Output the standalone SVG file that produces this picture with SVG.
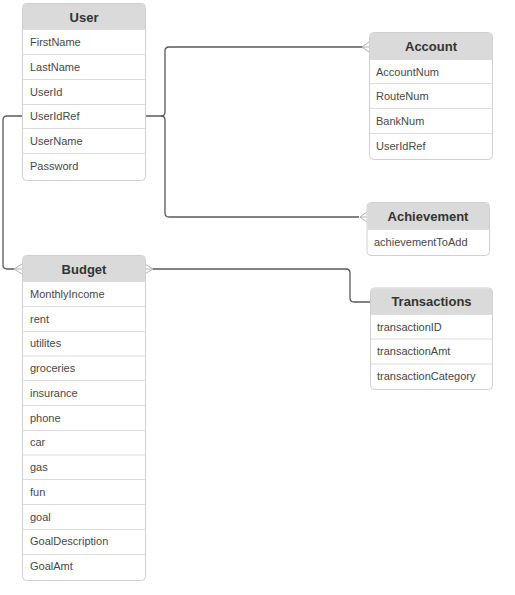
<svg xmlns="http://www.w3.org/2000/svg" width="515" height="595" viewBox="0 0 515 595">
<style>
.box{fill:#ffffff;stroke:#d0d0d0;stroke-width:1}
.hdr{fill:#dadada}
.sep{stroke:#dcdcdc;stroke-width:1}
.title{font-family:"Liberation Sans",Arial,sans-serif;font-size:13px;font-weight:bold;fill:#333;text-anchor:middle}
.row{font-family:"Liberation Sans",Arial,sans-serif;font-size:11px;fill:#484848}
.conn{fill:none;stroke:#5a5a5a;stroke-width:1.3}
.crow{fill:none;stroke:#b0b0b0;stroke-width:1}
</style>
<rect width="515" height="595" fill="#ffffff"/>
<g id="connectors">
<path class="conn" d="M145,116 H161 Q165,116 165,112 V51 Q165,47 169,47 H362"/>
<path class="conn" d="M161,116 Q165,116 165,120 V213 Q165,217 169,217 H359"/>
<path class="conn" d="M22,116 H7 Q3,116 3,120 V265 Q3,269 7,269 H14"/>
<path class="conn" d="M153,269 H346 Q350,269 350,273 V298 Q350,302 354,302 H371"/>
<path class="crow" d="M369,42 L362,47 L369,52 M362,47 H369"/>
<path class="crow" d="M367,212 L360,217 L367,222 M360,217 H367"/>
<path class="crow" d="M22,264 L14,269 L22,274 M14,269 H22"/>
<path class="crow" d="M145,264 L153,269 L145,274 M145,269 H153"/>
</g>
<g id="user">
<rect class="box" x="22.5" y="3.5" width="123" height="177" rx="4"/>
<path class="hdr" d="M26.5,4 H141.5 Q145,4 145,7.5 V29 H23 V7.5 Q23,4 26.5,4 Z"/>
<line class="sep" x1="22.5" y1="29.5" x2="145.5" y2="29.5"/>
<line class="sep" x1="22.5" y1="54.5" x2="145.5" y2="54.5"/>
<line class="sep" x1="22.5" y1="79.5" x2="145.5" y2="79.5"/>
<line class="sep" x1="22.5" y1="104.5" x2="145.5" y2="104.5"/>
<line class="sep" x1="22.5" y1="128.5" x2="145.5" y2="128.5"/>
<line class="sep" x1="22.5" y1="153.5" x2="145.5" y2="153.5"/>
<text class="title" x="84" y="21.5">User</text>
<text class="row" x="30" y="46">FirstName</text>
<text class="row" x="30" y="71">LastName</text>
<text class="row" x="30" y="96">UserId</text>
<text class="row" x="30" y="120">UserIdRef</text>
<text class="row" x="30" y="145">UserName</text>
<text class="row" x="30" y="170">Password</text>
</g>
<g id="account">
<rect class="box" x="369.5" y="32.5" width="123" height="127" rx="4"/>
<path class="hdr" d="M373.5,33 H488.5 Q492,33 492,36.5 V59 H370 V36.5 Q370,33 373.5,33 Z"/>
<line class="sep" x1="369.5" y1="59.5" x2="492.5" y2="59.5"/>
<line class="sep" x1="369.5" y1="83.5" x2="492.5" y2="83.5"/>
<line class="sep" x1="369.5" y1="108.5" x2="492.5" y2="108.5"/>
<line class="sep" x1="369.5" y1="133.5" x2="492.5" y2="133.5"/>
<text class="title" x="431" y="50.5">Account</text>
<text class="row" x="376" y="75.5">AccountNum</text>
<text class="row" x="376" y="100">RouteNum</text>
<text class="row" x="376" y="124.5">BankNum</text>
<text class="row" x="376" y="149.5">UserIdRef</text>
</g>
<g id="achievement">
<rect class="box" x="367" y="202.5" width="122.5" height="53" rx="4"/>
<path class="hdr" d="M371,203 H485.5 Q489,203 489,206.5 V229.5 H367.5 V206.5 Q367.5,203 371,203 Z"/>
<line class="sep" x1="367" y1="229.5" x2="489.5" y2="229.5"/>
<text class="title" x="428" y="220.5">Achievement</text>
<text class="row" x="374" y="246">achievementToAdd</text>
</g>
<g id="budget">
<rect class="box" x="22.5" y="255.5" width="123" height="325" rx="4"/>
<path class="hdr" d="M26.5,256 H141.5 Q145,256 145,259.5 V281 H23 V259.5 Q23,256 26.5,256 Z"/>
<line class="sep" x1="22.5" y1="281.5" x2="145.5" y2="281.5"/>
<line class="sep" x1="22.5" y1="306.5" x2="145.5" y2="306.5"/>
<line class="sep" x1="22.5" y1="331.5" x2="145.5" y2="331.5"/>
<line class="sep" x1="22.5" y1="356" x2="145.5" y2="356"/>
<line class="sep" x1="22.5" y1="380.5" x2="145.5" y2="380.5"/>
<line class="sep" x1="22.5" y1="405.5" x2="145.5" y2="405.5"/>
<line class="sep" x1="22.5" y1="430.5" x2="145.5" y2="430.5"/>
<line class="sep" x1="22.5" y1="455" x2="145.5" y2="455"/>
<line class="sep" x1="22.5" y1="479.5" x2="145.5" y2="479.5"/>
<line class="sep" x1="22.5" y1="504.5" x2="145.5" y2="504.5"/>
<line class="sep" x1="22.5" y1="529.5" x2="145.5" y2="529.5"/>
<line class="sep" x1="22.5" y1="554.5" x2="145.5" y2="554.5"/>
<text class="title" x="84" y="273.5">Budget</text>
<text class="row" x="30" y="298">MonthlyIncome</text>
<text class="row" x="30" y="323">rent</text>
<text class="row" x="30" y="347">utilites</text>
<text class="row" x="30" y="372">groceries</text>
<text class="row" x="30" y="397">insurance</text>
<text class="row" x="30" y="422">phone</text>
<text class="row" x="30" y="446">car</text>
<text class="row" x="30" y="471">gas</text>
<text class="row" x="30" y="496">fun</text>
<text class="row" x="30" y="521">goal</text>
<text class="row" x="30" y="545">GoalDescription</text>
<text class="row" x="30" y="570">GoalAmt</text>
</g>
<g id="transactions">
<rect class="box" x="370.5" y="288" width="122" height="101.5" rx="4"/>
<path class="hdr" d="M374.5,288.5 H488.5 Q492,288.5 492,292 V314.5 H371 V292 Q371,288.5 374.5,288.5 Z"/>
<line class="sep" x1="370.5" y1="314.5" x2="492.5" y2="314.5"/>
<line class="sep" x1="370.5" y1="339" x2="492.5" y2="339"/>
<line class="sep" x1="370.5" y1="364" x2="492.5" y2="364"/>
<text class="title" x="431.5" y="305.5">Transactions</text>
<text class="row" x="377" y="330.5">transactionID</text>
<text class="row" x="377" y="355">transactionAmt</text>
<text class="row" x="377" y="380">transactionCategory</text>
</g>
</svg>
